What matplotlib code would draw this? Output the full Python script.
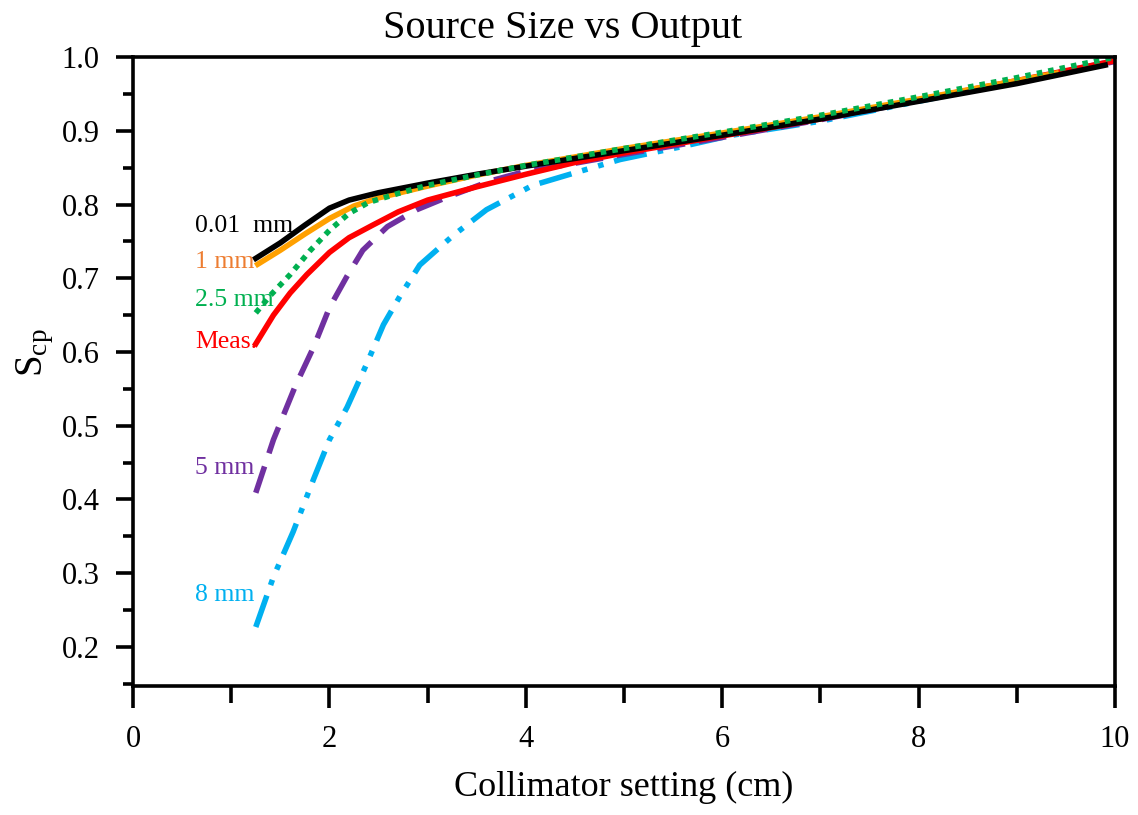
import matplotlib
matplotlib.use('Agg')
import matplotlib.pyplot as plt
from matplotlib.ticker import MultipleLocator

plt.rcParams['font.family'] = ['Liberation Serif', 'DejaVu Serif']
plt.rcParams['mathtext.fontset'] = 'custom'
plt.rcParams['mathtext.rm'] = 'Liberation Serif'

# curves (collimator setting in cm, S_cp)
x_001 = [1.25, 1.5, 1.75, 2.0, 2.2, 2.5, 3.0, 3.5, 4.0, 5.0, 6.0, 7.0, 8.0, 9.0, 9.9]
y_001 = [0.727, 0.748, 0.772, 0.795, 0.806, 0.816, 0.829, 0.841, 0.852, 0.873,
         0.894, 0.916, 0.940, 0.964, 0.989]

x_1 = [1.27, 1.5, 1.75, 2.0, 2.25, 2.5, 3.0, 3.5, 4.0, 5.0, 6.0, 7.0, 8.0, 9.0, 9.4]
y_1 = [0.719, 0.738, 0.760, 0.781, 0.798, 0.809, 0.825, 0.840, 0.853, 0.876,
       0.897, 0.919, 0.943, 0.968, 0.978]

x_25 = [1.25, 1.4, 1.6, 1.8, 2.0, 2.2, 2.4, 2.7, 3.0, 3.5, 4.0, 5.0, 6.0, 7.0,
        8.0, 9.0, 10.0]
y_25 = [0.653, 0.677, 0.705, 0.737, 0.765, 0.788, 0.803, 0.815, 0.826, 0.840,
        0.853, 0.876, 0.898, 0.921, 0.946, 0.972, 1.0]

x_meas = [1.25, 1.43, 1.6, 1.77, 2.0, 2.2, 2.44, 2.7, 3.0, 3.5, 4.0, 4.5, 5.0,
          6.0, 7.0, 8.0, 9.0, 10.0]
y_meas = [0.611, 0.650, 0.680, 0.705, 0.735, 0.755, 0.772, 0.790, 0.806, 0.824,
          0.841, 0.857, 0.870, 0.893, 0.916, 0.942, 0.968, 0.995]

x_5 = [1.25, 1.43, 1.65, 1.84, 2.0, 2.18, 2.34, 2.59, 2.89, 3.2, 3.64, 3.97,
       4.5, 5.0, 6.0, 7.0, 8.0, 9.0, 10.0]
y_5 = [0.409, 0.481, 0.553, 0.607, 0.660, 0.703, 0.738, 0.770, 0.793, 0.810,
       0.832, 0.844, 0.856, 0.868, 0.891, 0.915, 0.941, 0.967, 0.994]

x_8 = [1.25, 1.43, 1.63, 1.84, 2.0, 2.18, 2.38, 2.55, 2.72, 2.92, 3.26, 3.6,
       4.07, 4.55, 4.96, 5.57, 6.1, 7.0, 8.0, 9.0, 10.0]
y_8 = [0.227, 0.295, 0.356, 0.428, 0.481, 0.525, 0.584, 0.637, 0.676, 0.718,
       0.758, 0.793, 0.826, 0.845, 0.861, 0.878, 0.894, 0.913, 0.940, 0.967, 0.995]

# curve labels: text, y position
label_text = ['0.01  mm', '1 mm', '2.5 mm', 'Meas.', '5 mm', '8 mm']
label_y = [0.771, 0.722, 0.670, 0.613, 0.443, 0.270]
label_colors = ['black', '#ED7D31', '#00B050', '#FF0000', '#7030A0', '#00B0F0']

fig = plt.figure(figsize=(11.38, 8.15), dpi=100)
ax = fig.add_axes([0.1169, 0.1583, 0.8629, 0.7717])

lw = 4
ax.plot(x_8, y_8, color='#00B0F0', lw=lw, dashes=(6, 2, 1, 2, 1, 2))
ax.plot(x_5, y_5, color='#7030A0', lw=lw, dashes=(5, 2.5))
ax.plot(x_meas, y_meas, color='#FF0000', lw=lw)
ax.plot(x_1, y_1, color='#FFA000', lw=lw)
ax.plot(x_001, y_001, color='black', lw=lw)
ax.plot(x_25, y_25, color='#00B050', lw=lw, dashes=(1, 1.1))

for txt, yv, c in zip(label_text, label_y, label_colors):
    ax.text(0.63, yv, txt, color=c, fontsize=18.5, ha='left', va='center')

ax.set_xlim(0, 10)
ax.set_ylim(0.147, 1.0)
ax.xaxis.set_major_locator(MultipleLocator(2))
ax.xaxis.set_minor_locator(MultipleLocator(1))
ax.yaxis.set_major_locator(MultipleLocator(0.1))
ax.yaxis.set_minor_locator(MultipleLocator(0.05))
ax.yaxis.set_major_formatter(plt.FormatStrFormatter('%.1f'))

ax.tick_params(axis='x', which='major', direction='out', length=16, width=2.6,
               pad=12, labelsize=22)
ax.tick_params(axis='x', which='minor', direction='out', length=12, width=2.6)
ax.tick_params(axis='y', which='major', direction='out', length=12, width=2.6,
               pad=12, labelsize=22)
ax.tick_params(axis='y', which='minor', direction='out', length=7, width=2.6)
for sp in ax.spines.values():
    sp.set_linewidth(2.6)

ax.set_xlabel('Collimator setting (cm)', fontsize=26, labelpad=12)
ax.set_ylabel(r'$\mathrm{S_{cp}}$', fontsize=28)
ax.yaxis.set_label_coords(-0.078, 0.53)

fig.text(0.494, 0.965, 'Source Size vs Output', fontsize=29, ha='center', va='center')

fig.savefig('out.png', dpi=100)
